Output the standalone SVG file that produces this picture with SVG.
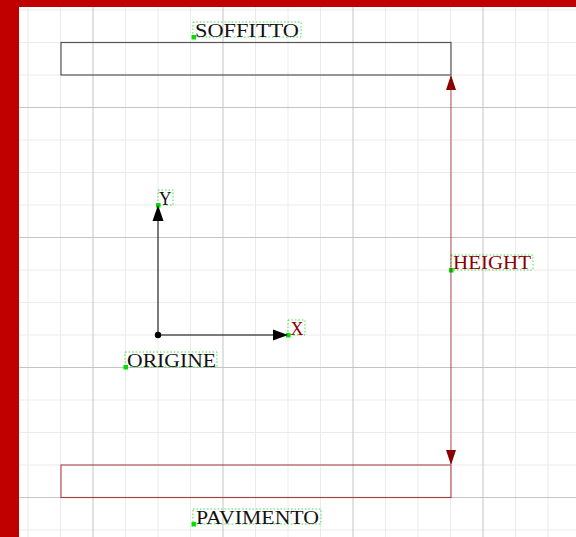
<svg xmlns="http://www.w3.org/2000/svg" width="576" height="537" viewBox="0 0 576 537">
<style>
.fine{stroke:#ebebeb;stroke-width:1}
.major{stroke:#c4c4c4;stroke-width:1}
.lbl{font-family:"Liberation Serif","DejaVu Serif",serif;font-size:18.5px}
.box{fill:none;stroke:#33dd33;stroke-width:0.9;stroke-dasharray:1.5 2}
.pt{fill:#00e000}
.ahb{fill:#000}
.ahr{fill:#8b0000}
</style>
<rect width="576" height="537" fill="#fff"/>
<g id="grid">
<g class="fine">
<line x1="28" y1="7" x2="28" y2="537"/><line x1="60.5" y1="7" x2="60.5" y2="537"/><line x1="125.5" y1="7" x2="125.5" y2="537"/><line x1="158" y1="7" x2="158" y2="537"/><line x1="190.5" y1="7" x2="190.5" y2="537"/><line x1="255.5" y1="7" x2="255.5" y2="537"/><line x1="288" y1="7" x2="288" y2="537"/><line x1="320.5" y1="7" x2="320.5" y2="537"/><line x1="385.5" y1="7" x2="385.5" y2="537"/><line x1="418" y1="7" x2="418" y2="537"/><line x1="450.5" y1="7" x2="450.5" y2="537"/><line x1="515.5" y1="7" x2="515.5" y2="537"/><line x1="548" y1="7" x2="548" y2="537"/>
<line x1="19" y1="10" x2="576" y2="10"/><line x1="19" y1="42.5" x2="576" y2="42.5"/><line x1="19" y1="75" x2="576" y2="75"/><line x1="19" y1="140" x2="576" y2="140"/><line x1="19" y1="172.5" x2="576" y2="172.5"/><line x1="19" y1="205" x2="576" y2="205"/><line x1="19" y1="270" x2="576" y2="270"/><line x1="19" y1="302.5" x2="576" y2="302.5"/><line x1="19" y1="335" x2="576" y2="335"/><line x1="19" y1="400" x2="576" y2="400"/><line x1="19" y1="432.5" x2="576" y2="432.5"/><line x1="19" y1="465" x2="576" y2="465"/><line x1="19" y1="530" x2="576" y2="530"/>
</g>
<g class="major">
<line x1="93" y1="7" x2="93" y2="537"/><line x1="223" y1="7" x2="223" y2="537"/><line x1="353" y1="7" x2="353" y2="537"/><line x1="483" y1="7" x2="483" y2="537"/>
<line x1="19" y1="107.5" x2="576" y2="107.5"/><line x1="19" y1="237.5" x2="576" y2="237.5"/><line x1="19" y1="367.5" x2="576" y2="367.5"/><line x1="19" y1="497.5" x2="576" y2="497.5"/>
</g>
</g>
<g id="border" fill="#c00000">
<rect x="0" y="0" width="576" height="7"/>
<rect x="0" y="0" width="19" height="537"/>
</g>
<g id="soffitto">
<rect x="61" y="42.5" width="390" height="32.5" fill="none" stroke="#555" stroke-width="1.2"/>
<rect class="box" x="193" y="22" width="108" height="15"/>
<rect class="pt" x="191.5" y="35" width="4.5" height="4.5"/>
<text class="lbl" x="195" y="36.5" textLength="104" lengthAdjust="spacingAndGlyphs" fill="#111">SOFFITTO</text>
</g>
<g id="pavimento">
<rect x="61" y="465" width="390" height="32.5" fill="none" stroke="#8b0000" stroke-opacity="0.65" stroke-width="1.2"/>
<rect class="box" x="193" y="509" width="128" height="15"/>
<rect class="pt" x="191.5" y="522" width="4.5" height="4.5"/>
<text class="lbl" x="196" y="523.5" textLength="123" lengthAdjust="spacingAndGlyphs" fill="#111">PAVIMENTO</text>
</g>
<g id="origine">
<circle cx="158" cy="335" r="3.2" fill="#000"/>
<rect class="box" x="125" y="352" width="92" height="15"/>
<rect class="pt" x="123.5" y="365" width="4.5" height="4.5"/>
<text class="lbl" x="127" y="366.5" textLength="89" lengthAdjust="spacingAndGlyphs" fill="#111">ORIGINE</text>
</g>
<g id="ylabel">
<rect class="box" x="158" y="190" width="15" height="15"/>
<rect class="pt" x="156" y="203" width="4.5" height="4.5"/>
<text class="lbl" x="159" y="204.5" textLength="12.5" lengthAdjust="spacingAndGlyphs" fill="#111">Y</text>
</g>
<g id="xlabel">
<rect class="box" x="288" y="320" width="17" height="15"/>
<rect class="pt" x="286" y="333" width="4.5" height="4.5"/>
<text class="lbl" x="290.5" y="334.5" textLength="13" lengthAdjust="spacingAndGlyphs" fill="#8b0000">X</text>
</g>
<g id="heightlabel">
<rect class="box" x="451" y="255" width="82" height="15"/>
<rect class="pt" x="449" y="268" width="4.5" height="4.5"/>
<text class="lbl" x="453" y="269" textLength="78" lengthAdjust="spacingAndGlyphs" fill="#8b0000">HEIGHT</text>
</g>
<g id="connectors">
<line x1="158" y1="335" x2="158" y2="218" stroke="#000" stroke-width="1"/>
<path class="ahb" d="M158,205 L152.5,221 L163.5,221 Z"/>
<line x1="158" y1="335" x2="276" y2="335" stroke="#000" stroke-width="1"/>
<path class="ahb" d="M288,335 L273,329.5 L273,340.5 Z"/>
<line x1="451" y1="76" x2="451" y2="464" stroke="#8b0000" stroke-opacity="0.55" stroke-width="1.2"/>
<path class="ahr" d="M451,75 L446,90 L456,90 Z"/>
<path class="ahr" d="M451,465 L446,450 L456,450 Z"/>
</g>
</svg>
